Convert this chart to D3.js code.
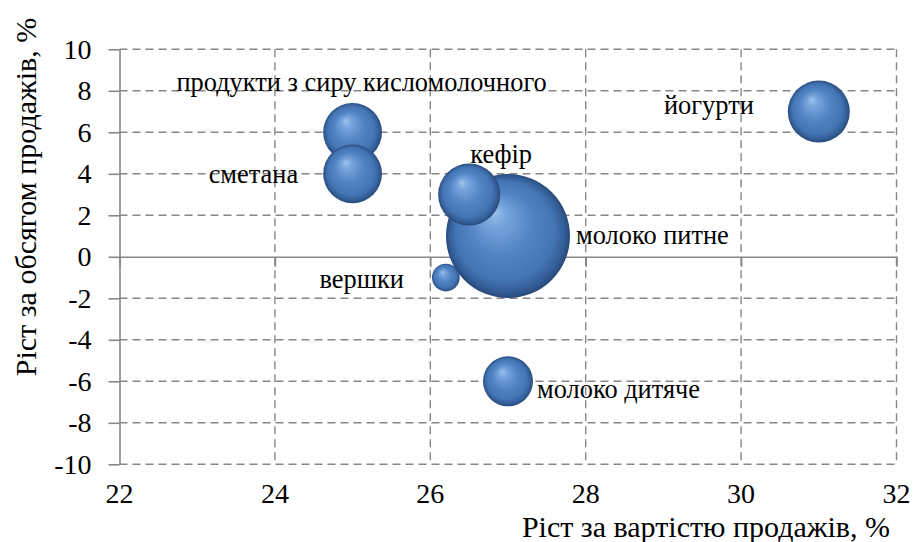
<!DOCTYPE html>
<html>
<head>
<meta charset="utf-8">
<script src="https://cdn.jsdelivr.net/npm/d3@7/dist/d3.min.js"></script>
</head>
<body style="margin:0;background:#fff">
<svg id="chart" width="915" height="542" style="display:block"></svg>
<script>
// Dairy product groups: growth by sales value (x, %) vs growth by sales volume (y, %),
// bubble area = share of the segment.
const products     = ["молоко питне", "кефір", "йогурти", "продукти з сиру кисломолочного", "сметана", "молоко дитяче", "вершки"];
const valueGrowth  = [27, 26.5, 31, 25, 25, 27, 26.2];
const volumeGrowth = [1, 3, 7, 6, 4, -6, -1];
const shares       = [40, 10, 10, 9, 9, 6.5, 2];

const xTicks = [22, 24, 26, 28, 30, 32];
const yTicks = [-10, -8, -6, -4, -2, 0, 2, 4, 6, 8, 10];
const xTitle = "Ріст за вартістю продажів, %";
const yTitle = "Ріст за обсягом продажів, %";

const serif = '"Liberation Serif", Tinos, Times, "Times New Roman", serif';
const svg = d3.select("#chart");
const gridColor = "#878787";

// apply the serif face both as attribute and inline style
function serifText(sel, size) {
  return sel.attr("font-family", serif)
    .attr("font-size", size)
    .style("font-family", serif)
    .style("font-size", size + "px");
}

const x = d3.scaleLinear().domain([22, 32]).range([119.5, 896.5]);
const y = d3.scaleLinear().domain([-10, 10]).range([464.3, 49.3]);
const r = d3.scaleSqrt().domain([0, 40]).range([0, 62]);

// sphere shading
const defs = svg.append("defs");
const grad = defs.append("radialGradient")
  .attr("id", "sphere")
  .attr("cx", "50%").attr("cy", "50%").attr("r", "50%")
  .attr("fx", "38%").attr("fy", "30%");
[
  [0, "#9cc3ee"],
  [0.18, "#77a4dc"],
  [0.5, "#5284c4"],
  [0.8, "#4374b3"],
  [0.93, "#335d96"],
  [1, "#27497a"]
].forEach(([o, c]) => grad.append("stop").attr("offset", o).attr("stop-color", c));

defs.append("filter").attr("id", "soft")
  .attr("x", "-10%").attr("y", "-10%").attr("width", "120%").attr("height", "120%")
  .append("feGaussianBlur").attr("stdDeviation", 0.7);

// grid
const grid = svg.append("g");
grid.selectAll("line.h")
  .data(yTicks.filter(d => d !== 0))
  .join("line")
  .attr("x1", x(22)).attr("x2", x(32))
  .attr("y1", d => y(d)).attr("y2", d => y(d))
  .attr("stroke", gridColor).attr("stroke-width", 1.4)
  .attr("stroke-dasharray", "8,5");
grid.selectAll("line.v")
  .data(xTicks.filter(d => d !== 22))
  .join("line")
  .attr("x1", d => x(d)).attr("x2", d => x(d))
  .attr("y1", y(10)).attr("y2", y(-10))
  .attr("stroke", gridColor).attr("stroke-width", 1.4)
  .attr("stroke-dasharray", "8,5");

// y axis at x = 22
const yAxis = svg.append("g")
  .attr("transform", `translate(${x(22)},0)`)
  .call(d3.axisLeft(y).tickValues(yTicks).tickSize(11).tickPadding(17).tickSizeOuter(0)
    .tickFormat(d => String(d)));
yAxis.attr("font-family", serif).attr("font-size", 28);
yAxis.select(".domain").attr("stroke", gridColor).attr("stroke-width", 1.6);
yAxis.selectAll(".tick line").attr("stroke", gridColor).attr("stroke-width", 1.6);
serifText(yAxis.selectAll(".tick text"), 28).attr("fill", "#000");

// x axis line at y = 0, labels along the bottom
const xAxis = svg.append("g")
  .attr("transform", `translate(0,${y(0)})`)
  .call(d3.axisBottom(x).tickValues(xTicks).tickSize(10).tickSizeOuter(0).tickFormat(""));
xAxis.select(".domain").attr("stroke", gridColor).attr("stroke-width", 1.6);
xAxis.selectAll(".tick line").attr("stroke", gridColor).attr("stroke-width", 1.6);

serifText(svg.append("g").selectAll("text")
  .data(xTicks)
  .join("text")
  .attr("x", d => x(d))
  .attr("y", 503)
  .attr("text-anchor", "middle"), 28)
  .text(d => d);

// axis titles
serifText(svg.append("text")
  .attr("x", 890).attr("y", 537)
  .attr("text-anchor", "end"), 30)
  .text(xTitle);
serifText(svg.append("text")
  .attr("transform", "translate(36,197) rotate(-90)")
  .attr("text-anchor", "middle"), 30)
  .text(yTitle);

// bubbles, largest first so smaller ones sit on top
const pts = products.map((name, i) => ({
  name, vx: valueGrowth[i], vy: volumeGrowth[i], s: shares[i]
}));
const order = pts.slice().sort((a, b) => b.s - a.s || b.vy - a.vy);

svg.append("g").selectAll("circle")
  .data(order)
  .join("circle")
  .attr("cx", d => x(d.vx))
  .attr("cy", d => y(d.vy))
  .attr("r", d => r(d.s))
  .attr("fill", "url(#sphere)")
  .attr("filter", "url(#soft)");

// data labels
const placement = {
  "молоко питне":                   { dx: 6,   dy: 8,   anchor: "start", side: 1 },
  "кефір":                          { dx: 32,  dy: -32, anchor: "middle", side: 0 },
  "йогурти":                        { dx: -34, dy: 2,   anchor: "end", side: -1 },
  "продукти з сиру кисломолочного": { dx: 9,   dy: -41, anchor: "middle", side: 0 },
  "сметана":                        { dx: -25, dy: 9,   anchor: "end", side: -1 },
  "молоко дитяче":                  { dx: 4,   dy: 17,  anchor: "start", side: 1 },
  "вершки":                         { dx: -28, dy: 10,  anchor: "end", side: -1 }
};

serifText(svg.append("g").selectAll("text")
  .data(pts)
  .join("text")
  .attr("x", d => x(d.vx) + placement[d.name].side * r(d.s) + placement[d.name].dx)
  .attr("y", d => y(d.vy) + placement[d.name].dy)
  .attr("text-anchor", d => placement[d.name].anchor), 26.4)
  .text(d => d.name);
</script>
</body>
</html>
